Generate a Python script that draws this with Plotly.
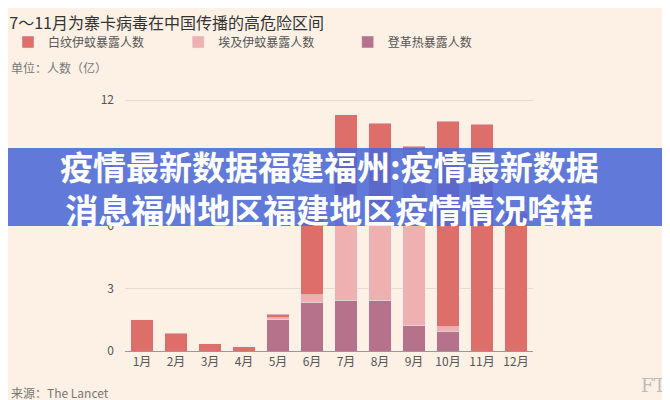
import plotly.graph_objects as go

months = ["1月", "2月", "3月", "4月", "5月", "6月", "7月", "8月", "9月", "10月", "11月", "12月"]
dengue = [0, 0, 0, 0, 1.5, 2.3, 2.4, 2.4, 1.2, 0.95, 0, 0]
aegypti = [0, 0, 0, 0, 0.1, 0.4, 5.0, 4.5, 8.4, 0.2, 0, 0]
albopictus = [1.5, 0.85, 0.35, 0.2, 0.15, 3.8, 3.9, 4.0, 0.2, 9.85, 10.85, 6.6]

bg = "#fdf1e6"
fig = go.Figure()
fig.add_bar(x=months, y=dengue, name="登革热暴露人数", marker_color="#b5728a", legend="legend3")
fig.add_bar(x=months, y=aegypti, name="埃及伊蚊暴露人数", marker_color="#eeb0b0", legend="legend2")
fig.add_bar(x=months, y=albopictus, name="白纹伊蚊暴露人数", marker_color="#dd6e6a", legend="legend")

leg = dict(orientation="h", xref="container", yref="container", y=0.915,
           xanchor="left", yanchor="middle", font=dict(size=12, color="#555"),
           bgcolor="rgba(0,0,0,0)")
fig.update_layout(
    width=670, height=400, barmode="stack", bargap=0.35,
    paper_bgcolor=bg, plot_bgcolor=bg,
    font=dict(family="Noto Sans CJK SC", color="#555", size=12),
    margin=dict(l=117, r=145, t=86, b=57, autoexpand=False),
    title=dict(text="7～11月为寨卡病毒在中国传播的高危险区间", x=0.002, xanchor="left", y=0.975,
               font=dict(size=16, color="#333")),
    legend=dict(leg, x=0.0),
    legend2=dict(leg, x=0.254),
    legend3=dict(leg, x=0.507),
    showlegend=True,
    xaxis=dict(showgrid=False, showline=True, linecolor="#999", ticks="",
               tickfont=dict(size=12, color="#555")),
    yaxis=dict(range=[0, 12.3], tickvals=[0, 3, 6, 9, 12], gridcolor="#e6d9ce",
               zeroline=False, tickfont=dict(size=12, color="#555"), ticklabelstandoff=10),
)
fig.add_annotation(text="单位：人数（亿）", xref="paper", yref="paper", x=-0.285, y=1.105,
                   xanchor="left", yanchor="middle", showarrow=False, font=dict(size=12, color="#777"))
fig.add_annotation(text="来源：The Lancet", xref="paper", yref="paper", x=-0.285, y=-0.16,
                   xanchor="left", yanchor="middle", showarrow=False, font=dict(size=12, color="#777"))
fig.add_annotation(text="FT", xref="paper", yref="paper", x=1.33, y=-0.136,
                   xanchor="right", yanchor="middle", showarrow=False,
                   font=dict(size=18, color="#bbb", family="DejaVu Serif"))
fig.add_shape(type="rect", xref="paper", yref="paper", x0=-0.4, x1=1.6, y0=0.486, y1=0.79,
              fillcolor="rgba(75,105,215,0.88)", line_width=0, layer="above")
fig.add_annotation(text="<b>疫情最新数据福建福州:疫情最新数据<br>消息福州地区福建地区疫情情况啥样</b>",
                   xref="paper", yref="paper", x=0.5, y=0.638, showarrow=False,
                   font=dict(size=33, color="white"), align="center")

fig.write_html("out.html")
